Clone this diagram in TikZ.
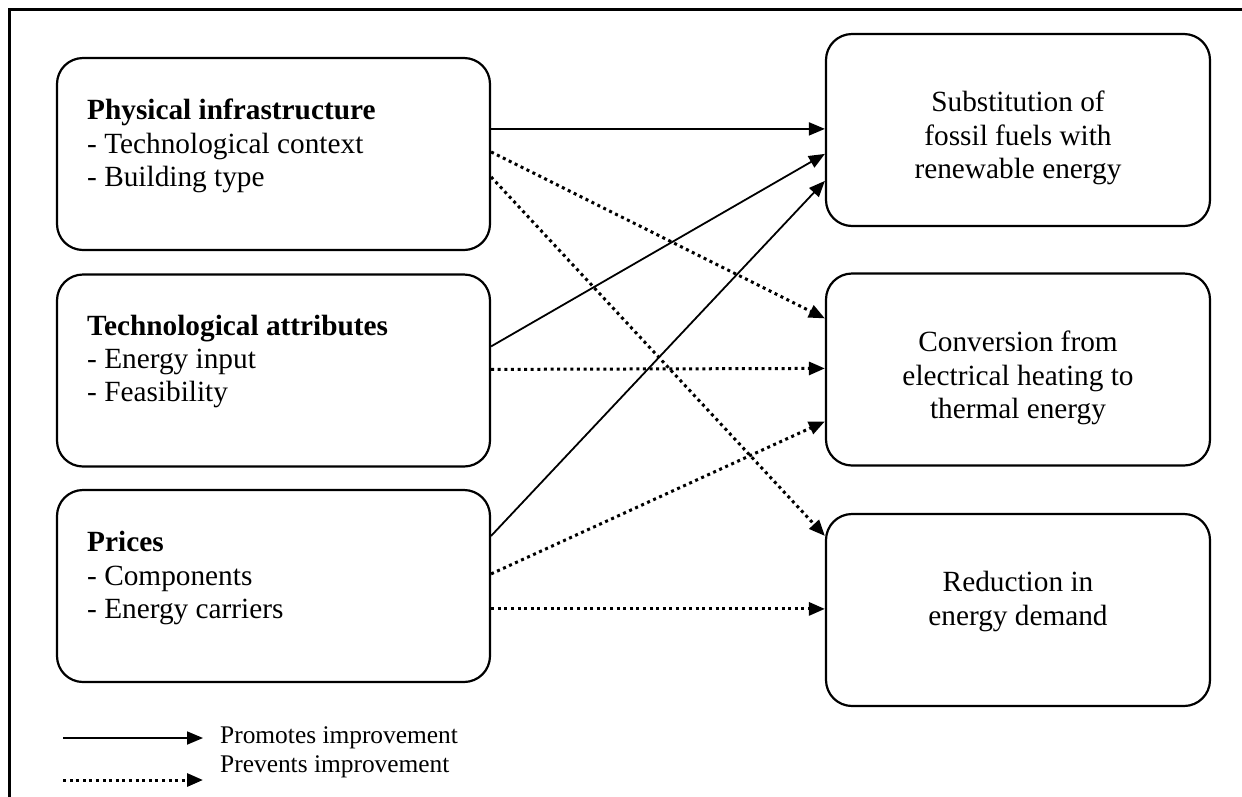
\documentclass[tikz,border=0pt]{standalone}
\usepackage{fontspec}
\setmainfont{Liberation Serif}
\usetikzlibrary{arrows.meta,calc}
\begin{document}
\begin{tikzpicture}[x=1pt,y=-1pt,
 box/.style={draw, line width=2.2pt, rounded corners=26pt, inner sep=0pt},
 lbox/.style={box, minimum width=433pt, minimum height=192pt},
 rbox/.style={box, minimum width=384pt, minimum height=192pt},
 ltext/.style={anchor=west, align=left, inner sep=0pt, font=\fontsize{29.3}{33.4}\selectfont},
 rtext/.style={anchor=center, align=center, inner sep=0pt, font=\fontsize{29.3}{33.4}\selectfont},
 legtext/.style={anchor=base west, inner sep=0pt, font=\fontsize{25.4}{29}\selectfont},
 promo/.style={line width=1.8pt, -{Triangle[length=16pt,width=13pt]}},
 prev/.style={line width=3pt, dash pattern=on 3pt off 3.6pt, -{Triangle[length=16pt,width=13pt]}},
]
\useasboundingbox (0,0) rectangle (1242,796);
\fill[white] (0,0) rectangle (1242,796);
% partial outer frame
\draw[line width=3pt] (9,800) -- (9,9) -- (1246,9);

% left boxes
\node[lbox] (A) at (273.5,154) {};
\node[lbox] (B) at (273.5,370.5) {};
\node[lbox] (C) at (273.5,586) {};
\node[ltext] (tA) at (87,146) {\textbf{Physical infrastructure}\\- Technological context\\- Building type};
\node[ltext] (tB) at (87,361.5) {\textbf{Technological attributes}\\- Energy input\\- Feasibility};
\node[ltext] (tC) at (87,578) {\textbf{Prices}\\- Components\\- Energy carriers};

% right boxes
\node[rbox] (R1) at (1018,130) {};
\node[rbox] (R2) at (1018,369.5) {};
\node[rbox] (R3) at (1018,610) {};
\node[rtext] (tR1) at (1018,138) {Substitution of\\fossil fuels with\\renewable energy};
\node[rtext] (tR2) at (1018,378) {Conversion from\\electrical heating to\\thermal energy};
\node[rtext] (tR3) at (1018,601.5) {Reduction in\\energy demand};

% connectors
\draw[promo] ($(A.north east)+(0,72)$) -- ($(R1.north west)+(0,96)$);
\draw[prev]  ($(A.north east)+(0,95)$) -- ($(R2.north west)+(0,46)$);
\draw[prev]  ($(A.north east)+(0,120)$) -- ($(R3.north west)+(0,23)$);
\draw[promo] ($(B.north east)+(0,73)$) -- ($(R1.north west)+(0,121)$);
\draw[prev]  ($(B.north east)+(0,96)$) -- ($(R2.north west)+(0,96)$);
\draw[promo] ($(C.north east)+(0,47)$) -- ($(R1.north west)+(0,148)$);
\draw[prev]  ($(C.north east)+(0,85)$) -- ($(R2.north west)+(0,149)$);
\draw[prev]  ($(C.north east)+(0,120)$) -- ($(R3.north west)+(0,96)$);

% legend
\coordinate (L1s) at (63,738);
\coordinate (L1e) at (203,738);
\coordinate (L2s) at (63,780);
\coordinate (L2e) at (203,780);
\draw[promo] (L1s) -- (L1e);
\draw[prev] (L2s) -- (L2e);
\node[legtext] (L1t) at (220,743) {Promotes improvement};
\node[legtext] (L2t) at (220,772) {Prevents improvement};
\end{tikzpicture}
\end{document}
